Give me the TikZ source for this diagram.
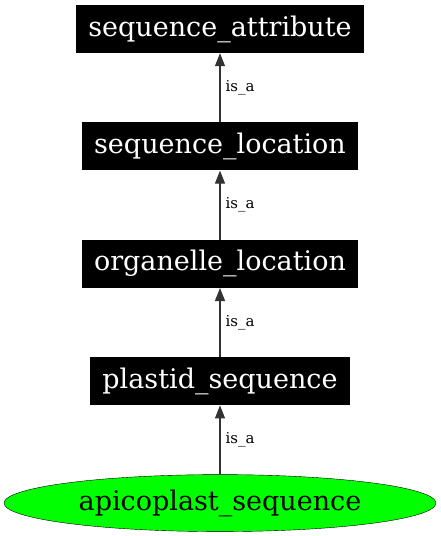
\documentclass[tikz,border=0pt]{standalone}
\usepackage{fontspec}
\setmainfont{DejaVu Serif}
\usetikzlibrary{arrows.meta,positioning,shapes.geometric}
\tikzset{
  term/.style={fill=black, text=white, font=\fontsize{27}{31}\selectfont, minimum height=48pt, inner xsep=12pt, inner ysep=0pt},
  leaf/.style={ellipse, draw, fill=green, thin, font=\fontsize{27}{31}\selectfont, minimum width=432pt, minimum height=57pt, inner sep=0pt},
  isa/.style={font=\fontsize{15}{18}\selectfont, text=black, right, inner sep=2pt, xshift=3pt},
  arrow/.style={-{Triangle[length=13pt,width=10pt]}, line width=1.1pt, draw=black!80, fill=black},
}

\begin{document}
\begin{tikzpicture}[node distance=69pt]
\useasboundingbox (0,0) rectangle (440pt,-536pt);
\node[term] (attr) at (220pt,-29pt) {sequence\_attribute};
\node[term, below=of attr] (loc) {sequence\_location};
\node[term, below=of loc] (organelle) {organelle\_location};
\node[term, below=of organelle] (plastid) {plastid\_sequence};
\node[leaf, below=of plastid] (apico) {apicoplast\_sequence};
\draw[arrow] (loc) -- node[isa] {is\_a} (attr);
\draw[arrow] (organelle) -- node[isa] {is\_a} (loc);
\draw[arrow] (plastid) -- node[isa] {is\_a} (organelle);
\draw[arrow] (apico) -- node[isa] {is\_a} (plastid);
\end{tikzpicture}
\end{document}
